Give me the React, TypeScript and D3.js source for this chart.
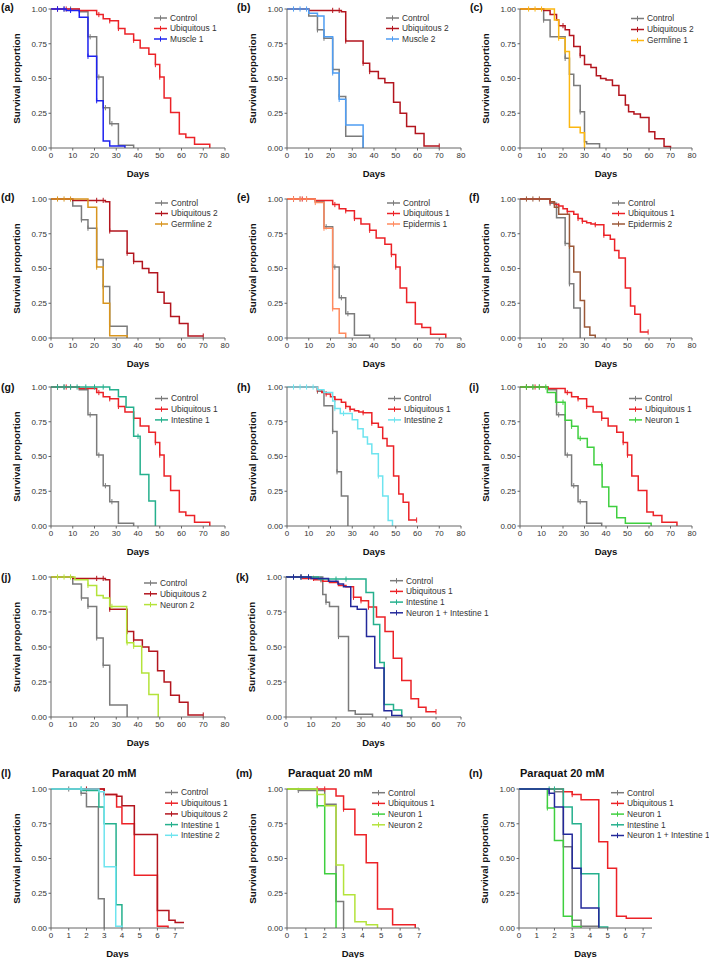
import React from 'react';
import * as d3 from 'd3';

type Step = [number, number];

// ---------------- data (time of drop, survival after drop) ----------------
const controlA: Step[] = [[13, 0.98], [17, 0.8], [21, 0.51], [24, 0.29], [27, 0.175], [31, 0.02], [38, 0]];
const controlACens = [3, 6, 9, 18, 22, 25, 28];
const ubiq1A: Step[] = [[13, 0.99], [21, 0.96], [24, 0.93], [27, 0.915], [31, 0.86], [34, 0.82], [38, 0.775], [41, 0.72], [45, 0.675], [48, 0.6], [50, 0.51], [52, 0.36], [55, 0.255], [59, 0.1], [62, 0.075], [66, 0.027], [73, 0]];
const ubiq1ACens = [3, 7, 22, 27, 31, 38, 48, 50];
const muscle1: Step[] = [[7, 0.99], [13, 0.94], [17, 0.66], [21, 0.34], [24, 0.05], [27, 0.015], [34, 0]];
const muscle1Cens = [3, 6, 9, 17, 21];

const controlB: Step[] = [[10, 0.95], [14, 0.85], [17, 0.79], [21, 0.565], [24, 0.37], [27, 0.085], [35, 0]];
const controlBCens = [14, 17, 21, 24];
const muscle2: Step[] = [[10, 0.97], [14, 0.95], [17, 0.8], [21, 0.54], [24, 0.35], [27, 0.165], [35, 0]];
const muscle2Cens = [3, 6, 9, 21, 24];
const ubiq2B: Step[] = [[10, 0.99], [25, 0.98], [27, 0.77], [35, 0.61], [38, 0.55], [42, 0.5], [45, 0.47], [49, 0.33], [52, 0.25], [55, 0.155], [59, 0.105], [63, 0.014]];
const ubiq2BCens = [21, 24, 27, 35, 38, 70];
const ubiq2BEnd = 70;

const controlC: Step[] = [[11, 0.92], [14, 0.8], [21, 0.645], [23, 0.53], [25, 0.45], [28, 0.26], [30, 0.045], [31, 0.03], [37, 0]];
const controlCCens = [11, 21, 28];
const germline1: Step[] = [[16, 0.92], [18, 0.79], [21, 0.695], [23, 0.15], [28, 0.11], [30, 0]];
const germline1Cens = [4, 7, 10, 18, 21];
const ubiq2C: Step[] = [[11, 0.99], [14, 0.96], [17, 0.92], [18, 0.88], [21, 0.85], [23, 0.81], [25, 0.73], [28, 0.665], [30, 0.6], [33, 0.58], [35.5, 0.52], [37.5, 0.5], [40, 0.49], [43, 0.45], [46, 0.38], [49, 0.31], [50.5, 0.26], [53, 0.245], [56, 0.22], [60, 0.117], [62.7, 0.067], [67, 0.01], [70, 0]];
const ubiq2CCens = [20, 28];

const germline2: Step[] = [[17, 0.94], [21, 0.51], [24, 0.25], [27, 0.017], [35, 0]];
const germline2Cens = [3, 6, 9, 21];

const epidermis1: Step[] = [[13, 0.975], [17, 0.79], [21, 0.21], [24, 0.035], [27, 0]];
const epidermis1Cens = [3, 6, 9, 13, 17, 21];

const controlF: Step[] = [[14, 0.97], [17, 0.865], [21, 0.68], [23, 0.39], [25, 0.215], [28, 0]];
const controlFCens = [14, 21, 23];
const epidermis2: Step[] = [[14, 0.98], [16, 0.94], [18, 0.89], [23, 0.66], [25, 0.475], [28, 0.27], [30, 0.08], [32.5, 0.02], [35, 0]];
const epidermis2Cens = [3, 6, 9, 23];
const ubiq1F: Step[] = [[14, 0.98], [16, 0.96], [18, 0.95], [20, 0.93], [22, 0.91], [25, 0.89], [27, 0.86], [29, 0.84], [31, 0.83], [33, 0.82], [35, 0.815], [39, 0.74], [42, 0.71], [44, 0.63], [46, 0.575], [49, 0.36], [51.4, 0.23], [53.4, 0.17], [56, 0.043]];
const ubiq1FCens = [14, 18, 22, 27, 29, 35, 39, 59.6];
const ubiq1FEnd = 59.6;

const intestine1G: Step[] = [[27, 0.98], [31, 0.93], [34.5, 0.855], [38, 0.645], [41, 0.37], [45, 0.18], [48, 0]];
const intestine1GCens = [3, 6, 9, 12, 16, 20, 24, 40];

const intestine2: Step[] = [[14, 0.98], [17, 0.96], [21, 0.9], [22, 0.845], [24.5, 0.81], [30, 0.765], [32.5, 0.7], [35, 0.64], [37, 0.59], [39, 0.52], [42, 0.36], [44, 0.215], [46.5, 0.04], [48.5, 0]];
const intestine2Cens = [3, 6, 9, 12, 22, 26, 42];

const neuron1I: Step[] = [[12.7, 0.96], [16.6, 0.89], [21, 0.76], [24, 0.717], [27, 0.63], [31.3, 0.566], [34.4, 0.44], [38.2, 0.28], [41.3, 0.14], [45, 0.06], [49, 0.02], [61, 0]];
const neuron1ICens = [3, 6, 9, 12, 17, 20, 24, 28, 38];

const neuron2: Step[] = [[11, 0.98], [17, 0.94], [21, 0.867], [24, 0.85], [27, 0.79], [34.8, 0.53], [38, 0.505], [41.7, 0.315], [45, 0.16], [49.3, 0]];
const neuron2Cens = [3, 6, 9, 17, 28, 35, 38];

const controlK: Step[] = [[14.7, 0.875], [16, 0.82], [17.4, 0.79], [21, 0.575], [25, 0.045], [27.7, 0.02], [34.6, 0]];
const controlKCens = [16, 21];
const ubiq1K: Step[] = [[6.7, 0.99], [11.4, 0.98], [14.7, 0.97], [17.4, 0.96], [21, 0.94], [24, 0.93], [27, 0.855], [30, 0.83], [33, 0.785], [36.2, 0.715], [39.6, 0.61], [42.9, 0.42], [46.3, 0.26], [50, 0.13], [53, 0.07], [56, 0.038]];
const ubiq1KCens = [6, 11, 14, 27, 30, 33, 60];
const ubiq1KEnd = 60;
const intestine1K: Step[] = [[13, 0.985], [32, 0.89], [35, 0.66], [37.5, 0.39], [39.3, 0.09], [43, 0.05], [46.3, 0]];
const intestine1KCens = [3, 6, 9, 14, 20, 24];
const neuInt1K: Step[] = [[10, 0.99], [17, 0.97], [20.8, 0.95], [23, 0.93], [25.9, 0.79], [28.5, 0.77], [32.2, 0.575], [35.5, 0.35], [39.2, 0.045], [42.3, 0.01], [46.3, 0]];
const neuInt1KCens = [3, 6, 9];

const controlL: Step[] = [[1.7, 0.97], [2.0, 0.873], [2.67, 0.21], [3.0, 0]];
const controlLCens = [1.0, 1.7];
const ubiq1L: Step[] = [[3.0, 0.96], [3.7, 0.87], [4.0, 0.75], [4.7, 0.38], [6.0, 0.012], [6.6, 0]];
const ubiq1LCens = [3.0];
const ubiq2L: Step[] = [[3.0, 0.96], [3.7, 0.947], [4.0, 0.88], [4.7, 0.673], [6.0, 0.126], [6.65, 0.055], [7.0, 0.04]];
const ubiq2LCens = [2.0];
const ubiq2LEnd = 7.5;
const intestine1L: Step[] = [[1.8, 0.99], [2.7, 0.87], [3.0, 0.75], [3.67, 0.167], [4.0, 0]];
const intestine1LCens = [1.7];
const intestine2L: Step[] = [[2.7, 0.98], [3.0, 0.44], [3.65, 0.012], [4.0, 0]];
const intestine2LCens = [1.7];

const controlM: Step[] = [[0.6, 0.99], [2.0, 0.89], [2.6, 0.19], [3.0, 0]];
const controlMCens = [0.6, 2.0];
const ubiq1M: Step[] = [[2.6, 0.95], [3.0, 0.855], [3.6, 0.67], [4.2, 0.47], [4.8, 0.136], [5.6, 0.024], [6.8, 0]];
const ubiq1MCens = [1.6, 2.0, 3.0];
const neuron1M: Step[] = [[1.6, 0.88], [2.0, 0.39], [2.6, 0]];
const neuron1MCens = [1.6];
const neuron2M: Step[] = [[1.6, 0.96], [2.0, 0.88], [2.6, 0.453], [3.0, 0.24], [3.6, 0.045], [4.2, 0.024], [4.8, 0]];
const neuron2MCens: number[] = [];

const controlN: Step[] = [[2.0, 0.98], [2.5, 0.585], [3.0, 0.055], [3.5, 0.012], [4.5, 0]];
const controlNCens = [2.0];
const ubiq1N: Step[] = [[2.5, 0.98], [3.0, 0.96], [3.5, 0.923], [4.5, 0.62], [5.0, 0.43], [5.5, 0.084], [6.05, 0.07]];
const ubiq1NCens = [2.5, 3.0];
const ubiq1NEnd = 7.5;
const neuron1N: Step[] = [[1.6, 0.864], [2.0, 0.63], [2.5, 0.084], [3.0, 0.01], [3.5, 0]];
const neuron1NCens = [1.6];
const intestine1N: Step[] = [[2.5, 0.87], [3.0, 0.75], [3.5, 0.39], [4.5, 0.007], [5.0, 0]];
const intestine1NCens = [1.7, 2.0];
const neuInt1N: Step[] = [[1.7, 0.97], [2.0, 0.87], [2.5, 0.675], [3.0, 0.43], [3.5, 0.143], [4.5, 0]];
const neuInt1NCens = [1.7];

const yTicks = [0, 0.25, 0.5, 0.75, 1];
const dayTicks80 = [0, 10, 20, 30, 40, 50, 60, 70, 80];
const dayTicks70 = [0, 10, 20, 30, 40, 50, 60, 70];
const dayTicks7 = [0, 1, 2, 3, 4, 5, 6, 7];

// ---------------- colours ----------------
const C = {
  control: '#7b7b7b',
  ubiq1: '#ec2227',
  ubiq2: '#b3151e',
  muscle1: '#1e22f0',
  muscle2: '#4f9df2',
  germ1: '#fcb711',
  germ2: '#d8951f',
  epi1: '#ff8a5e',
  epi2: '#9b5838',
  int1: '#25b08d',
  int2: '#6ee4ef',
  neu1: '#3fcf3f',
  neu2: '#b4e33b',
  neuInt1: '#23299a',
};

interface Curve { name: string; color: string; steps: Step[]; cens: number[]; end: number }
const cv = (name: string, color: string, steps: Step[], cens: number[], end?: number): Curve => ({
  name, color, steps, cens, end: end ?? steps[steps.length - 1][0],
});

interface Panel {
  label: string; labelX: number; labelY: number;
  x0: number; x1: number; top: number; bottom: number;
  xMax: number; xTicks: number[]; title?: string;
  lx: number; ly: number; dy: number;
  curves: Curve[];
}

const R1 = { top: 9, bottom: 148 };
const R2 = { top: 199, bottom: 338 };
const R3 = { top: 387, bottom: 526 };
const R4 = { top: 577, bottom: 717 };
const R5 = { top: 789, bottom: 928 };

const panels: Panel[] = [
  { label: '(a)', labelX: 1, labelY: 11, x0: 51, x1: 225, ...R1, xMax: 80, xTicks: dayTicks80, lx: 154, ly: 18, dy: 10.5,
    curves: [cv('Control', C.control, controlA, controlACens), cv('Ubiquitous 1', C.ubiq1, ubiq1A, ubiq1ACens), cv('Muscle 1', C.muscle1, muscle1, muscle1Cens)] },
  { label: '(b)', labelX: 237, labelY: 11, x0: 287, x1: 461, ...R1, xMax: 80, xTicks: dayTicks80, lx: 386, ly: 18, dy: 10.5,
    curves: [cv('Control', C.control, controlB, controlBCens), cv('Ubiquitous 2', C.ubiq2, ubiq2B, ubiq2BCens, ubiq2BEnd), cv('Muscle 2', C.muscle2, muscle2, muscle2Cens)] },
  { label: '(c)', labelX: 470, labelY: 11, x0: 520, x1: 692, ...R1, xMax: 80, xTicks: dayTicks80, lx: 631, ly: 18.5, dy: 11,
    curves: [cv('Control', C.control, controlC, controlCCens), cv('Ubiquitous 2', C.ubiq2, ubiq2C, ubiq2CCens), cv('Germline 1', C.germ1, germline1, germline1Cens)] },
  { label: '(d)', labelX: 1, labelY: 201, x0: 51, x1: 225, ...R2, xMax: 80, xTicks: dayTicks80, lx: 155, ly: 203, dy: 10.5,
    curves: [cv('Control', C.control, controlB, controlBCens), cv('Ubiquitous 2', C.ubiq2, ubiq2B, ubiq2BCens, ubiq2BEnd), cv('Germline 2', C.germ2, germline2, germline2Cens)] },
  { label: '(e)', labelX: 237, labelY: 201, x0: 287, x1: 461, ...R2, xMax: 80, xTicks: dayTicks80, lx: 387, ly: 203, dy: 10.5,
    curves: [cv('Control', C.control, controlA, controlACens), cv('Ubiquitous 1', C.ubiq1, ubiq1A, ubiq1ACens), cv('Epidermis 1', C.epi1, epidermis1, epidermis1Cens)] },
  { label: '(f)', labelX: 469, labelY: 201, x0: 520, x1: 692, ...R2, xMax: 80, xTicks: dayTicks80, lx: 612, ly: 203, dy: 10.5,
    curves: [cv('Control', C.control, controlF, controlFCens), cv('Ubiquitous 1', C.ubiq1, ubiq1F, ubiq1FCens, ubiq1FEnd), cv('Epidermis 2', C.epi2, epidermis2, epidermis2Cens)] },
  { label: '(g)', labelX: 1, labelY: 391, x0: 51, x1: 225, ...R3, xMax: 80, xTicks: dayTicks80, lx: 155, ly: 398.5, dy: 10.7,
    curves: [cv('Control', C.control, controlA, controlACens), cv('Ubiquitous 1', C.ubiq1, ubiq1A, ubiq1ACens), cv('Intestine 1', C.int1, intestine1G, intestine1GCens)] },
  { label: '(h)', labelX: 237, labelY: 391, x0: 287, x1: 461, ...R3, xMax: 80, xTicks: dayTicks80, lx: 388, ly: 398.5, dy: 10.7,
    curves: [cv('Control', C.control, controlF, controlFCens), cv('Ubiquitous 1', C.ubiq1, ubiq1F, ubiq1FCens, ubiq1FEnd), cv('Intestine 2', C.int2, intestine2, intestine2Cens)] },
  { label: '(i)', labelX: 469, labelY: 391, x0: 520, x1: 692, ...R3, xMax: 80, xTicks: dayTicks80, lx: 629, ly: 398.5, dy: 10.7,
    curves: [cv('Control', C.control, controlA, controlACens), cv('Ubiquitous 1', C.ubiq1, ubiq1A, ubiq1ACens), cv('Neuron 1', C.neu1, neuron1I, neuron1ICens)] },
  { label: '(j)', labelX: 1, labelY: 581, x0: 51, x1: 225, ...R4, xMax: 80, xTicks: dayTicks80, lx: 144, ly: 583, dy: 10.8,
    curves: [cv('Control', C.control, controlB, controlBCens), cv('Ubiquitous 2', C.ubiq2, ubiq2B, ubiq2BCens, ubiq2BEnd), cv('Neuron 2', C.neu2, neuron2, neuron2Cens)] },
  { label: '(k)', labelX: 236, labelY: 581, x0: 286, x1: 461, ...R4, xMax: 70, xTicks: dayTicks70, lx: 390, ly: 580.7, dy: 10.7,
    curves: [cv('Control', C.control, controlK, controlKCens), cv('Ubiquitous 1', C.ubiq1, ubiq1K, ubiq1KCens, ubiq1KEnd), cv('Intestine 1', C.int1, intestine1K, intestine1KCens), cv('Neuron 1 + Intestine 1', C.neuInt1, neuInt1K, neuInt1KCens)] },
  { label: '(l)', labelX: 1, labelY: 777, x0: 51, x1: 184, ...R5, xMax: 7.5, xTicks: dayTicks7, title: 'Paraquat 20 mM', lx: 165, ly: 792.5, dy: 10.7,
    curves: [cv('Control', C.control, controlL, controlLCens), cv('Ubiquitous 1', C.ubiq1, ubiq1L, ubiq1LCens), cv('Ubiquitous 2', C.ubiq2, ubiq2L, ubiq2LCens, ubiq2LEnd), cv('Intestine 1', C.int1, intestine1L, intestine1LCens), cv('Intestine 2', C.int2, intestine2L, intestine2LCens)] },
  { label: '(m)', labelX: 236, labelY: 777, x0: 287, x1: 419, ...R5, xMax: 7, xTicks: dayTicks7, title: 'Paraquat 20 mM', lx: 372, ly: 792.7, dy: 10.7,
    curves: [cv('Control', C.control, controlM, controlMCens), cv('Ubiquitous 1', C.ubiq1, ubiq1M, ubiq1MCens), cv('Neuron 1', C.neu1, neuron1M, neuron1MCens), cv('Neuron 2', C.neu2, neuron2M, neuron2MCens)] },
  { label: '(n)', labelX: 469, labelY: 777, x0: 519, x1: 652, ...R5, xMax: 7.5, xTicks: dayTicks7, title: 'Paraquat 20 mM', lx: 611, ly: 792.7, dy: 10.7,
    curves: [cv('Control', C.control, controlN, controlNCens), cv('Ubiquitous 1', C.ubiq1, ubiq1N, ubiq1NCens, ubiq1NEnd), cv('Neuron 1', C.neu1, neuron1N, neuron1NCens), cv('Intestine 1', C.int1, intestine1N, intestine1NCens), cv('Neuron 1 + Intestine 1', C.neuInt1, neuInt1N, neuInt1NCens)] },
];

const FONT = 'Liberation Sans, Arial, Helvetica, sans-serif';
const AXIS = '#666';
const TXT = '#333';

function survAt(steps: Step[], t: number): number {
  let s = 1;
  for (const [ti, si] of steps) { if (ti <= t) s = si; else break; }
  return s;
}

function PanelView({ p }: { p: Panel }) {
  const xs = d3.scaleLinear().domain([0, p.xMax]).range([p.x0, p.x1]);
  const ys = d3.scaleLinear().domain([0, 1]).range([p.bottom, p.top]);
  const line = d3.line<Step>().x(d => xs(d[0])).y(d => ys(d[1])).curve(d3.curveStepAfter);
  const fmt = d3.format('.2f');
  const midY = (p.top + p.bottom) / 2;
  return (
    <g>
      <text x={p.labelX} y={p.labelY} fontFamily={FONT} fontWeight="bold" fontSize={10.5} fill="#111">{p.label}</text>
      {p.title && (
        <text x={p.x0 + 1} y={p.labelY} fontFamily={FONT} fontWeight="bold" fontSize={11} fill="#111">{p.title}</text>
      )}
      {/* curves */}
      {p.curves.map((c, i) => {
        const last = c.steps[c.steps.length - 1][1];
        const pts: Step[] = [[0, 1], ...c.steps, [c.end, last]];
        return (
          <g key={i}>
            <path d={line(pts) || ''} fill="none" stroke={c.color} strokeWidth={1.5} />
            {c.cens.map((t, j) => {
              const y = ys(survAt(c.steps, t));
              return <line key={j} x1={xs(t)} x2={xs(t)} y1={y - 2.6} y2={y + 2.6} stroke={c.color} strokeWidth={1} />;
            })}
          </g>
        );
      })}
      {/* axes */}
      <line x1={p.x0} x2={p.x1} y1={p.bottom} y2={p.bottom} stroke={AXIS} strokeWidth={1} />
      <line x1={p.x0} x2={p.x0} y1={p.top} y2={p.bottom} stroke={AXIS} strokeWidth={1} />
      {p.xTicks.map(t => (
        <g key={'x' + t}>
          <line x1={xs(t)} x2={xs(t)} y1={p.bottom} y2={p.bottom + 2.5} stroke={AXIS} strokeWidth={1} />
          <text x={xs(t)} y={p.bottom + 9.5} textAnchor="middle" fontFamily={FONT} fontSize={8} fill={TXT}>{t}</text>
        </g>
      ))}
      {yTicks.map(t => (
        <g key={'y' + t}>
          <line x1={p.x0 - 2.5} x2={p.x0} y1={ys(t)} y2={ys(t)} stroke={AXIS} strokeWidth={1} />
          <text x={p.x0 - 4} y={ys(t)} dy="0.35em" textAnchor="end" fontFamily={FONT} fontSize={8} fill={TXT}>{fmt(t)}</text>
        </g>
      ))}
      <text x={(p.x0 + p.x1) / 2} y={p.bottom + 28.5} textAnchor="middle" fontFamily={FONT} fontWeight="bold" fontSize={9.5} fill="#111">Days</text>
      <text transform={`translate(${p.x0 - 34},${midY}) rotate(-90)`} textAnchor="middle" dy="0.35em" fontFamily={FONT} fontWeight="bold" fontSize={9.8} fill="#111">Survival proportion</text>
      {/* legend */}
      {p.curves.map((c, i) => {
        const y = p.ly + i * p.dy;
        return (
          <g key={'lg' + i}>
            <line x1={p.lx} x2={p.lx + 13} y1={y} y2={y} stroke={c.color} strokeWidth={1.5} />
            <line x1={p.lx + 6.5} x2={p.lx + 6.5} y1={y - 2.6} y2={y + 2.6} stroke={c.color} strokeWidth={1} />
            <text x={p.lx + 16} y={y} dy="0.35em" fontFamily={FONT} fontSize={8.4} fill={TXT}>{c.name}</text>
          </g>
        );
      })}
    </g>
  );
}

export default function App() {
  return (
    <svg width={709} height={958} viewBox="0 0 709 958" style={{ position: 'absolute', left: 0, top: 0, background: '#fff' }}>
      <rect x={0} y={0} width={709} height={958} fill="#fff" />
      {panels.map(p => <PanelView key={p.label} p={p} />)}
    </svg>
  );
}
